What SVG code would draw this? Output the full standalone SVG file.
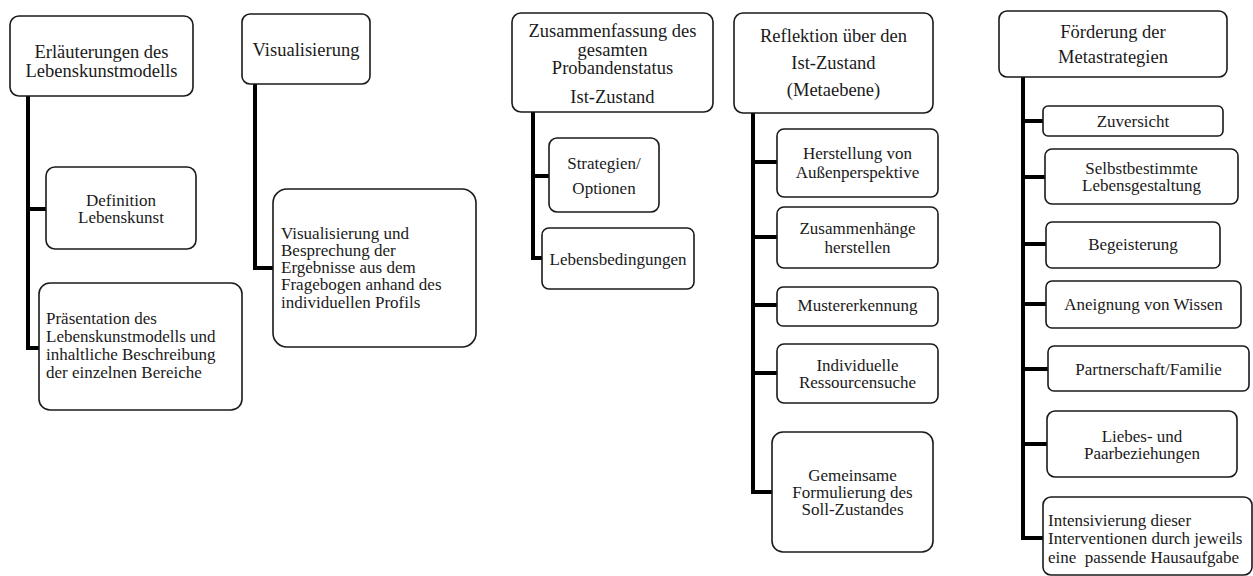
<svg xmlns="http://www.w3.org/2000/svg" width="1253" height="576" viewBox="0 0 1253 576" font-family="'Liberation Serif', 'Times New Roman', 'DejaVu Serif', serif">
  <style>
    .box { fill: #ffffff; stroke: #1a1a1a; stroke-width: 1.6; }
    .link { fill: none; stroke: #000000; stroke-width: 4; stroke-linejoin: miter; }
    text { font-family: 'Liberation Serif', 'Times New Roman', 'DejaVu Serif', serif; fill: #1a1a1a; }
    .h { font-size: 18.5px; text-anchor: middle; }
    .c { font-size: 17px; text-anchor: middle; }
    .l { font-size: 17px; text-anchor: start; white-space: pre; }
  </style>
  <rect width="1253" height="576" fill="#ffffff"/>

  <!-- connectors: trunk from each heading with branches to its items -->
  <g id="connectors">
    <path class="link" d="M28 96 V348 H39 M28 209 H46"/>
    <path class="link" d="M255 84 V268 H273"/>
    <path class="link" d="M533 112 V258 H542 M533 176 H549"/>
    <path class="link" d="M753 113 V492 H772 M753 162 H777 M753 237 H777 M753 305 H777 M753 373 H777"/>
    <path class="link" d="M1023 77 V538 H1043 M1023 121 H1043 M1023 177 H1045 M1023 244 H1046 M1023 304 H1046 M1023 369 H1048 M1023 444 H1047"/>
  </g>

  <!-- column 1 -->
  <g id="erlaeuterungen">
    <rect class="box" x="10" y="16" width="183" height="80" rx="9"/>
    <text class="h" x="101.5" y="58">Erläuterungen des</text>
    <text class="h" x="101.5" y="77">Lebenskunstmodells</text>
  </g>
  <g id="definition">
    <rect class="box" x="46" y="167" width="150" height="82" rx="9"/>
    <text class="c" x="121" y="206">Definition</text>
    <text class="c" x="121" y="223">Lebenskunst</text>
  </g>
  <g id="praesentation">
    <rect class="box" x="39" y="283" width="203" height="127" rx="11"/>
    <text class="l" x="46" y="324">Präsentation des</text>
    <text class="l" x="46" y="342">Lebenskunstmodells und</text>
    <text class="l" x="46" y="360">inhaltliche Beschreibung</text>
    <text class="l" x="46" y="378">der einzelnen Bereiche</text>
  </g>

  <!-- column 2 -->
  <g id="visualisierung">
    <rect class="box" x="242" y="14" width="128" height="70" rx="8"/>
    <text class="h" x="306" y="56">Visualisierung</text>
  </g>
  <g id="besprechung">
    <rect class="box" x="273" y="189" width="203" height="158" rx="14"/>
    <text class="l" x="281" y="239">Visualisierung und</text>
    <text class="l" x="281" y="256">Besprechung der</text>
    <text class="l" x="281" y="273">Ergebnisse aus dem</text>
    <text class="l" x="281" y="290">Fragebogen anhand des</text>
    <text class="l" x="281" y="308">individuellen Profils</text>
  </g>

  <!-- column 3 -->
  <g id="zusammenfassung">
    <rect class="box" x="512" y="13" width="201" height="99" rx="9"/>
    <text class="h" x="612.5" y="37">Zusammenfassung des</text>
    <text class="h" x="612.5" y="56">gesamten</text>
    <text class="h" x="612.5" y="74">Probandenstatus</text>
    <text class="h" x="612.5" y="103">Ist-Zustand</text>
  </g>
  <g id="strategien">
    <rect class="box" x="549" y="138" width="110" height="74" rx="8"/>
    <text class="c" x="604" y="169">Strategien/</text>
    <text class="c" x="604" y="194">Optionen</text>
  </g>
  <g id="lebensbedingungen">
    <rect class="box" x="542" y="228" width="152" height="61" rx="7"/>
    <text class="c" x="618" y="265">Lebensbedingungen</text>
  </g>

  <!-- column 4 -->
  <g id="reflektion">
    <rect class="box" x="734" y="13" width="199" height="100" rx="9"/>
    <text class="h" x="833.5" y="42">Reflektion über den</text>
    <text class="h" x="833.5" y="69">Ist-Zustand</text>
    <text class="h" x="833.5" y="96">(Metaebene)</text>
  </g>
  <g id="aussenperspektive">
    <rect class="box" x="777" y="129" width="161" height="68" rx="7"/>
    <text class="c" x="857.5" y="159">Herstellung von</text>
    <text class="c" x="857.5" y="178">Außenperspektive</text>
  </g>
  <g id="zusammenhaenge">
    <rect class="box" x="777" y="207" width="161" height="61" rx="7"/>
    <text class="c" x="857.5" y="234">Zusammenhänge</text>
    <text class="c" x="857.5" y="253">herstellen</text>
  </g>
  <g id="mustererkennung">
    <rect class="box" x="777" y="287" width="161" height="39" rx="6"/>
    <text class="c" x="857.5" y="311">Mustererkennung</text>
  </g>
  <g id="ressourcensuche">
    <rect class="box" x="777" y="344" width="161" height="59" rx="7"/>
    <text class="c" x="857.5" y="371">Individuelle</text>
    <text class="c" x="857.5" y="388">Ressourcensuche</text>
  </g>
  <g id="soll-zustand">
    <rect class="box" x="772" y="432" width="161" height="120" rx="11"/>
    <text class="c" x="852.5" y="481">Gemeinsame</text>
    <text class="c" x="852.5" y="498">Formulierung des</text>
    <text class="c" x="852.5" y="515">Soll-Zustandes</text>
  </g>

  <!-- column 5 -->
  <g id="metastrategien">
    <rect class="box" x="999" y="11" width="228" height="66" rx="8"/>
    <text class="h" x="1113" y="38">Förderung der</text>
    <text class="h" x="1113" y="63">Metastrategien</text>
  </g>
  <g id="zuversicht">
    <rect class="box" x="1043" y="106" width="180" height="30" rx="5"/>
    <text class="c" x="1133" y="127">Zuversicht</text>
  </g>
  <g id="lebensgestaltung">
    <rect class="box" x="1045" y="149" width="193" height="55" rx="7"/>
    <text class="c" x="1141.5" y="174">Selbstbestimmte</text>
    <text class="c" x="1141.5" y="191">Lebensgestaltung</text>
  </g>
  <g id="begeisterung">
    <rect class="box" x="1046" y="222" width="174" height="46" rx="6"/>
    <text class="c" x="1133" y="250">Begeisterung</text>
  </g>
  <g id="wissen">
    <rect class="box" x="1046" y="281" width="195" height="47" rx="6"/>
    <text class="c" x="1143.5" y="310">Aneignung von Wissen</text>
  </g>
  <g id="partnerschaft">
    <rect class="box" x="1048" y="346" width="201" height="45" rx="6"/>
    <text class="c" x="1148.5" y="375">Partnerschaft/Familie</text>
  </g>
  <g id="paarbeziehungen">
    <rect class="box" x="1047" y="411" width="190" height="66" rx="8"/>
    <text class="c" x="1142" y="442">Liebes- und</text>
    <text class="c" x="1142" y="459">Paarbeziehungen</text>
  </g>
  <g id="hausaufgabe">
    <rect class="box" x="1043" y="497" width="209" height="78" rx="8"/>
    <text class="l" x="1048" y="526">Intensivierung dieser</text>
    <text class="l" x="1048" y="544">Interventionen durch jeweils</text>
    <text class="l" x="1048" y="563">eine  passende Hausaufgabe</text>
  </g>
</svg>
